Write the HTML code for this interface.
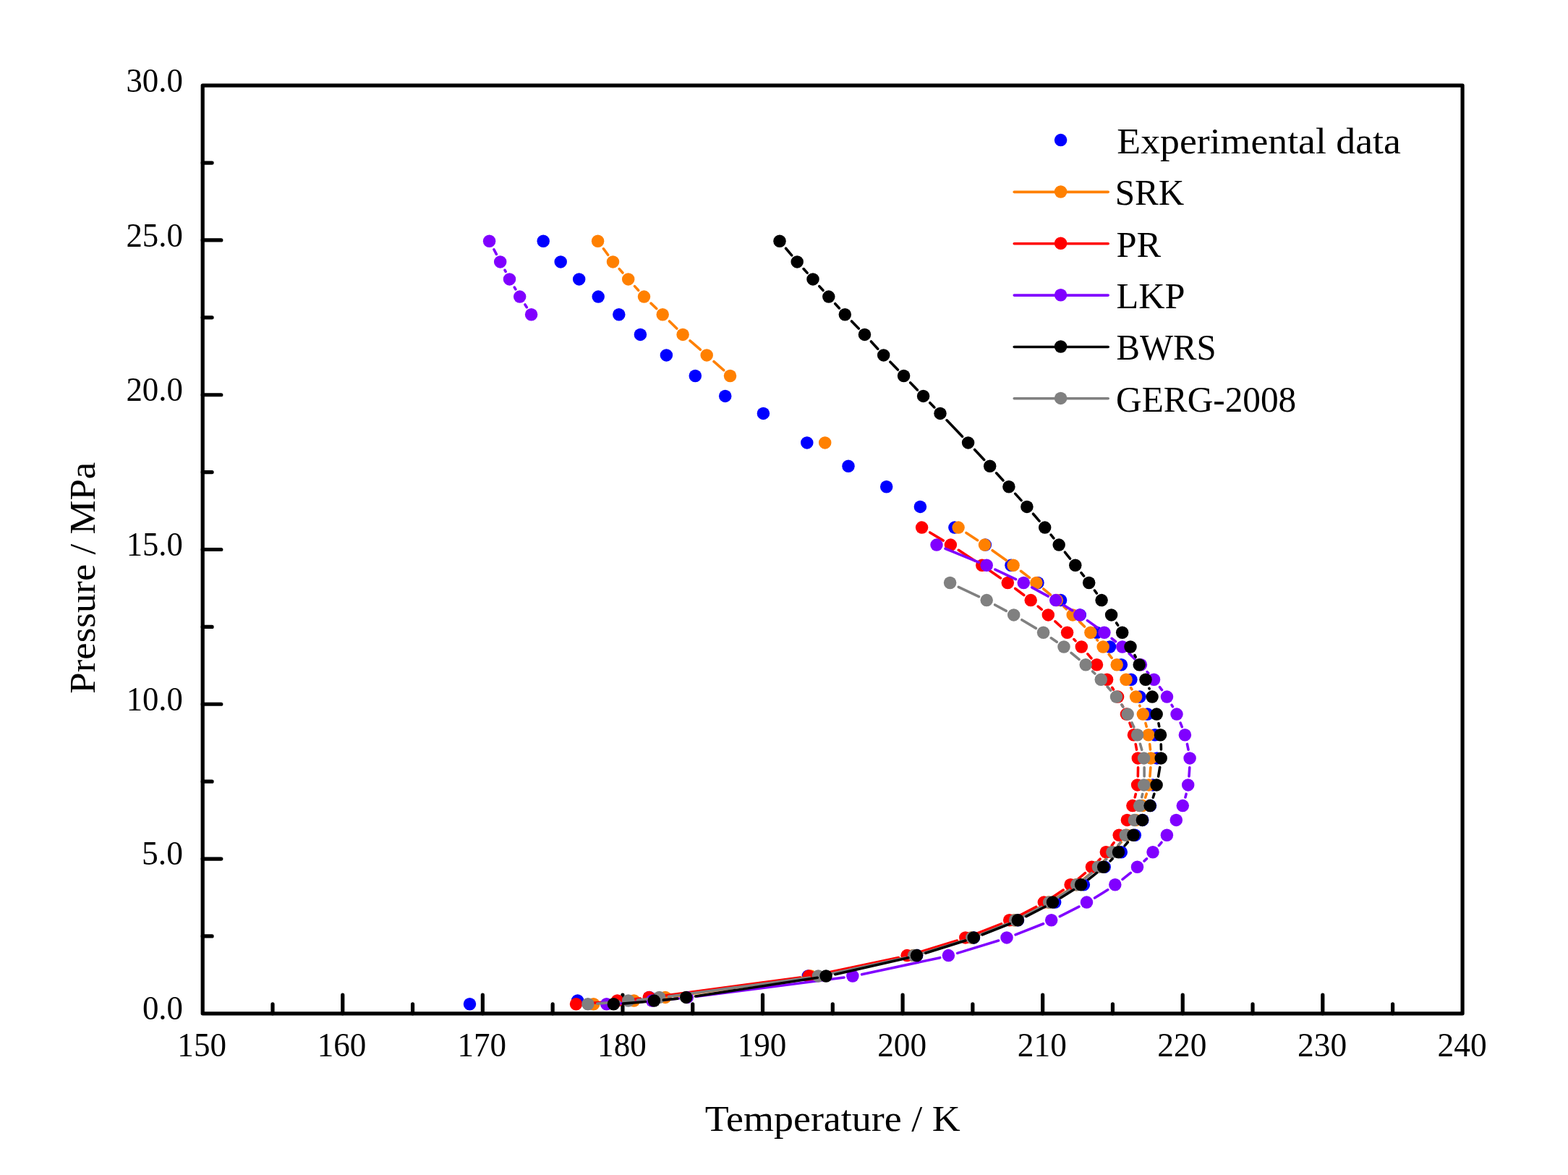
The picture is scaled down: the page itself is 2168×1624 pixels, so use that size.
<!DOCTYPE html>
<html lang="en">
<head>
<meta charset="utf-8">
<title>Pressure vs Temperature phase envelope</title>
<style>
html,body{margin:0;padding:0;background:#fff;}
body{width:2168px;height:1624px;overflow:hidden;}
svg{display:block;}
text{font-family:"Liberation Serif","DejaVu Serif",serif;fill:#000;}
</style>
</head>
<body>
<svg width="2168" height="1624" viewBox="0 0 2168 1624" role="img" aria-label="Pressure versus temperature phase envelope: experimental data compared with SRK, PR, LKP, BWRS and GERG-2008 equations of state">
<rect x="0" y="0" width="2168" height="1624" fill="#ffffff"/>
<g id="axes" fill="none" stroke="#000" stroke-width="5.2" stroke-linecap="round" stroke-linejoin="round">
<rect x="280.2" y="118.2" width="1741.9" height="1282.6"/>
<path d="M376.99 1400.8V1387.9M473.78 1400.8V1375.2M570.57 1400.8V1387.9M667.36 1400.8V1375.2M764.14 1400.8V1387.9M860.93 1400.8V1375.2M957.72 1400.8V1387.9M1054.51 1400.8V1375.2M1151.3 1400.8V1387.9M1248.09 1400.8V1375.2M1344.88 1400.8V1387.9M1441.67 1400.8V1375.2M1538.46 1400.8V1387.9M1635.24 1400.8V1375.2M1732.03 1400.8V1387.9M1828.82 1400.8V1375.2M1925.61 1400.8V1387.9M280.2 1293.92H293.1M280.2 1187.03H305.8M280.2 1080.15H293.1M280.2 973.27H305.8M280.2 866.38H293.1M280.2 759.5H305.8M280.2 652.62H293.1M280.2 545.73H305.8M280.2 438.85H293.1M280.2 331.97H305.8M280.2 225.08H293.1"/>
</g>
<g id="s-exp" fill="#0000ff" stroke="none">
<circle cx="751.2" cy="333.3" r="8.75"/>
<circle cx="775.2" cy="361.9" r="8.75"/>
<circle cx="800.7" cy="385.9" r="8.75"/>
<circle cx="827.2" cy="410.1" r="8.75"/>
<circle cx="855.8" cy="434.7" r="8.75"/>
<circle cx="885.4" cy="462.4" r="8.75"/>
<circle cx="921.4" cy="490.9" r="8.75"/>
<circle cx="961.3" cy="519.5" r="8.75"/>
<circle cx="1002.7" cy="547.4" r="8.75"/>
<circle cx="1055.4" cy="571.4" r="8.75"/>
<circle cx="1115.8" cy="611.9" r="8.75"/>
<circle cx="1173" cy="644.2" r="8.75"/>
<circle cx="1225.7" cy="672.7" r="8.75"/>
<circle cx="1272.4" cy="700.4" r="8.75"/>
<circle cx="1319.9" cy="729.1" r="8.75"/>
<circle cx="1362.4" cy="753.1" r="8.75"/>
<circle cx="1398" cy="781.3" r="8.75"/>
<circle cx="1435" cy="805.5" r="8.75"/>
<circle cx="1466.6" cy="829.6" r="8.75"/>
<circle cx="1493.3" cy="849.9" r="8.75"/>
<circle cx="1516.5" cy="874.3" r="8.75"/>
<circle cx="1534.5" cy="894" r="8.75"/>
<circle cx="1550.4" cy="918.8" r="8.75"/>
<circle cx="1563.9" cy="939.3" r="8.75"/>
<circle cx="1576.1" cy="963.1" r="8.75"/>
<circle cx="1586.5" cy="987.1" r="8.75"/>
<circle cx="1596.9" cy="1015.8" r="8.75"/>
<circle cx="1599.7" cy="1047.9" r="8.75"/>
<circle cx="1594.1" cy="1084.9" r="8.75"/>
<circle cx="1590.5" cy="1113.6" r="8.75"/>
<circle cx="1579.8" cy="1133.4" r="8.75"/>
<circle cx="1569.3" cy="1154.2" r="8.75"/>
<circle cx="1550.3" cy="1177.8" r="8.75"/>
<circle cx="1527.2" cy="1198.2" r="8.75"/>
<circle cx="1498.4" cy="1222.8" r="8.75"/>
<circle cx="1458.7" cy="1247.1" r="8.75"/>
<circle cx="1407.5" cy="1271.8" r="8.75"/>
<circle cx="1346.5" cy="1295.9" r="8.75"/>
<circle cx="1267.7" cy="1320.6" r="8.75"/>
<circle cx="1117.3" cy="1349" r="8.75"/>
<circle cx="897.8" cy="1378.4" r="8.75"/>
<circle cx="798.6" cy="1383" r="8.75"/>
<circle cx="649.5" cy="1387.7" r="8.75"/>
</g>
<g id="s-srk" fill="#ff8000" stroke="none">
<path d="M834.45 343.8L840.65 352.3M856.24 371.68L860.96 377.02M877.53 395.6L882.67 401.3M899.99 419.16L907.71 426.54M925.54 443.92L935.76 454.08M954.03 470.97L968.27 483.23M987.02 499.6L1000.68 511.7M1335.99 736.4L1351.61 746.7M1372.14 760.77L1391.46 774.53M1411.51 789.29L1423.49 798.41M1442.89 814.01L1452.31 821.99M1470.93 838.51L1474.57 841.89M1492.56 859.1L1499.54 866M1516.62 884.1L1517.48 885.1M1533.27 904.33L1537.13 909.37M1563.68 950.56L1564.92 952.74M1575.77 975.09L1576.13 976.01M1583.99 999.59L1585.21 1004.21M1589.71 1028.63L1590.49 1035.97M1590.86 1060.76L1589.94 1072.94M1585.24 1097.22L1583.66 1102.18M1550.27 1163.99L1545.93 1168.91M1529.07 1187.23L1526.73 1189.67M1508.5 1206.58L1497.9 1215.32M1477.8 1229.93L1460.6 1240.87M1439.08 1253.34L1414.12 1266.46M1391.55 1276.89L1354.65 1291.71M1331.2 1300.02L1275 1317.38M1250.89 1323.5L1133.71 1347M1109.18 1351.25L932.72 1377.05M908.02 1380.16L889.38 1382.14M864.59 1384.49L833.61 1387.11" fill="none" stroke="#ff8000" stroke-width="3.6" stroke-linecap="round"/>
<circle cx="826.6" cy="333.3" r="8.75"/>
<circle cx="847.5" cy="361.9" r="8.75"/>
<circle cx="868.7" cy="385.9" r="8.75"/>
<circle cx="890.5" cy="410.1" r="8.75"/>
<circle cx="916.2" cy="434.7" r="8.75"/>
<circle cx="944.1" cy="462.4" r="8.75"/>
<circle cx="977.2" cy="490.9" r="8.75"/>
<circle cx="1009.5" cy="519.5" r="8.75"/>
<circle cx="1140.7" cy="611.9" r="8.75"/>
<circle cx="1325.1" cy="729.1" r="8.75"/>
<circle cx="1361.5" cy="753.1" r="8.75"/>
<circle cx="1401.1" cy="781.3" r="8.75"/>
<circle cx="1432.9" cy="805.5" r="8.75"/>
<circle cx="1461.3" cy="829.6" r="8.75"/>
<circle cx="1483.2" cy="849.9" r="8.75"/>
<circle cx="1507.9" cy="874.3" r="8.75"/>
<circle cx="1525.2" cy="894" r="8.75"/>
<circle cx="1544.2" cy="918.8" r="8.75"/>
<circle cx="1557" cy="939.3" r="8.75"/>
<circle cx="1570.6" cy="963.1" r="8.75"/>
<circle cx="1580.3" cy="987.1" r="8.75"/>
<circle cx="1587.9" cy="1015.8" r="8.75"/>
<circle cx="1591.3" cy="1047.9" r="8.75"/>
<circle cx="1588.5" cy="1084.9" r="8.75"/>
<circle cx="1579.4" cy="1113.6" r="8.75"/>
<circle cx="1570.4" cy="1133.4" r="8.75"/>
<circle cx="1558" cy="1154.2" r="8.75"/>
<circle cx="1537.2" cy="1177.8" r="8.75"/>
<circle cx="1517.6" cy="1198.2" r="8.75"/>
<circle cx="1487.8" cy="1222.8" r="8.75"/>
<circle cx="1449.6" cy="1247.1" r="8.75"/>
<circle cx="1402.6" cy="1271.8" r="8.75"/>
<circle cx="1342.6" cy="1295.9" r="8.75"/>
<circle cx="1262.6" cy="1320.6" r="8.75"/>
<circle cx="1121" cy="1349" r="8.75"/>
<circle cx="919.9" cy="1378.4" r="8.75"/>
<circle cx="876.5" cy="1383" r="8.75"/>
<circle cx="820.7" cy="1387.7" r="8.75"/>
</g>
<g id="s-pr" fill="#ff0000" stroke="none">
<path d="M1285.76 735.98L1304.24 747.12M1325.34 760.33L1347.86 774.97M1368.59 788.76L1383.51 798.94M1403.73 813.45L1415.77 822.55M1435.22 838.07L1440.28 842.33M1458.93 858.82L1466.97 866.28M1484.9 883.55L1487 885.65M1503.89 903.91L1508.91 909.79M1537.74 950.28L1539.46 953.02M1551.59 974.72L1552.41 976.38M1562.03 999.29L1563.87 1004.51M1570.21 1028.5L1571.59 1036.1M1573.56 1060.8L1573.34 1072.9M1570.27 1097.47L1569.23 1101.93M1540.18 1164.57L1537.32 1168.33M1521.13 1187.18L1518.67 1189.72M1500.45 1206.64L1490.15 1215.26M1470.21 1230.11L1454.19 1240.69M1432.75 1253.28L1407.25 1266.52M1384.62 1276.83L1346.88 1291.77M1323.4 1299.99L1266.5 1317.41M1242.41 1323.6L1131.09 1346.9M1106.56 1351.09L910.14 1377.21M885.42 1380.15L866.38 1382.15M841.59 1384.47L809.41 1387.13" fill="none" stroke="#ff0000" stroke-width="3.6" stroke-linecap="round"/>
<circle cx="1274.6" cy="729.1" r="8.75"/>
<circle cx="1314.4" cy="753.1" r="8.75"/>
<circle cx="1357.8" cy="781.3" r="8.75"/>
<circle cx="1393.3" cy="805.5" r="8.75"/>
<circle cx="1425.2" cy="829.6" r="8.75"/>
<circle cx="1449.3" cy="849.9" r="8.75"/>
<circle cx="1475.6" cy="874.3" r="8.75"/>
<circle cx="1495.3" cy="894" r="8.75"/>
<circle cx="1516.5" cy="918.8" r="8.75"/>
<circle cx="1530.6" cy="939.3" r="8.75"/>
<circle cx="1545.6" cy="963.1" r="8.75"/>
<circle cx="1557.4" cy="987.1" r="8.75"/>
<circle cx="1567.5" cy="1015.8" r="8.75"/>
<circle cx="1573.3" cy="1047.9" r="8.75"/>
<circle cx="1572.6" cy="1084.9" r="8.75"/>
<circle cx="1565.9" cy="1113.6" r="8.75"/>
<circle cx="1558.4" cy="1133.4" r="8.75"/>
<circle cx="1547.2" cy="1154.2" r="8.75"/>
<circle cx="1529.3" cy="1177.8" r="8.75"/>
<circle cx="1509.5" cy="1198.2" r="8.75"/>
<circle cx="1480.1" cy="1222.8" r="8.75"/>
<circle cx="1443.3" cy="1247.1" r="8.75"/>
<circle cx="1395.7" cy="1271.8" r="8.75"/>
<circle cx="1334.8" cy="1295.9" r="8.75"/>
<circle cx="1254.1" cy="1320.6" r="8.75"/>
<circle cx="1118.4" cy="1349" r="8.75"/>
<circle cx="897.3" cy="1378.4" r="8.75"/>
<circle cx="853.5" cy="1383" r="8.75"/>
<circle cx="796.5" cy="1387.7" r="8.75"/>
</g>
<g id="s-lkp" fill="#8000ff" stroke="none">
<path d="M682.91 344.76L686.39 351.34M698.06 373.34L699.14 375.36M711.3 397.09L712.9 399.81M725.96 421.01L728.34 424.69M1307.03 758.25L1353.17 777.05M1375.95 787.08L1404.55 800.62M1426.74 811.89L1449.26 824.11M1470.82 836.54L1482.78 843.86M1503.51 857.61L1517.29 867.49M1537.16 882.47L1542.54 886.73M1561.24 903.11L1568.96 910.59M1586.14 928.58L1587.76 930.42M1603.51 949.68L1606.49 953.62M1620.1 974.4L1621.4 976.7M1632.1 999.12L1634.3 1004.68M1641.44 1028.44L1643.06 1036.16M1644.79 1060.77L1644.01 1072.93M1640.09 1097.41L1638.91 1101.99M1605.99 1164.27L1602.41 1168.63M1585.47 1186.82L1582.03 1190.08M1563.28 1206.44L1552.02 1215.46M1531.71 1229.8L1513.59 1241M1491.89 1253.17L1465.31 1266.63M1442.6 1276.78L1404.1 1291.82M1380.6 1300L1323.8 1317.4M1299.73 1323.66L1191.57 1346.84M1167.05 1351.04L963.15 1377.26M938.4 1380.02L914.4 1382.28M889.58 1384.38L851.62 1387.22" fill="none" stroke="#8000ff" stroke-width="3.6" stroke-linecap="round"/>
<circle cx="676.6" cy="333.3" r="8.75"/>
<circle cx="691.7" cy="361.9" r="8.75"/>
<circle cx="704.5" cy="385.9" r="8.75"/>
<circle cx="718.7" cy="410.1" r="8.75"/>
<circle cx="734.6" cy="434.7" r="8.75"/>
<circle cx="1295" cy="753.1" r="8.75"/>
<circle cx="1364.2" cy="781.3" r="8.75"/>
<circle cx="1415.3" cy="805.5" r="8.75"/>
<circle cx="1459.7" cy="829.6" r="8.75"/>
<circle cx="1492.9" cy="849.9" r="8.75"/>
<circle cx="1526.9" cy="874.3" r="8.75"/>
<circle cx="1551.8" cy="894" r="8.75"/>
<circle cx="1577.4" cy="918.8" r="8.75"/>
<circle cx="1595.5" cy="939.3" r="8.75"/>
<circle cx="1613.5" cy="963.1" r="8.75"/>
<circle cx="1627" cy="987.1" r="8.75"/>
<circle cx="1638.4" cy="1015.8" r="8.75"/>
<circle cx="1645.1" cy="1047.9" r="8.75"/>
<circle cx="1642.7" cy="1084.9" r="8.75"/>
<circle cx="1635.3" cy="1113.6" r="8.75"/>
<circle cx="1626.3" cy="1133.4" r="8.75"/>
<circle cx="1613.4" cy="1154.2" r="8.75"/>
<circle cx="1594" cy="1177.8" r="8.75"/>
<circle cx="1572.5" cy="1198.2" r="8.75"/>
<circle cx="1541.8" cy="1222.8" r="8.75"/>
<circle cx="1502.5" cy="1247.1" r="8.75"/>
<circle cx="1453.7" cy="1271.8" r="8.75"/>
<circle cx="1392" cy="1295.9" r="8.75"/>
<circle cx="1311.4" cy="1320.6" r="8.75"/>
<circle cx="1178.9" cy="1349" r="8.75"/>
<circle cx="950.3" cy="1378.4" r="8.75"/>
<circle cx="901.5" cy="1383" r="8.75"/>
<circle cx="838.7" cy="1387.7" r="8.75"/>
</g>
<g id="s-gerg" fill="#808080" stroke="none">
<path d="M1325.34 811.3L1353.46 824.7M1375.65 835.98L1391.25 844.42M1412.89 856.73L1432.41 868.37M1453.33 881.85L1461.27 887.35M1481.12 902.35L1492.08 911.35M1510.63 927.93L1513.87 931.07M1531.08 949.05L1535.72 954.25M1550.82 973.97L1552.88 977.13M1564.97 998.83L1567.83 1004.97M1576.46 1028.24L1578.74 1036.36M1582.13 1060.8L1582.17 1072.9M1579.65 1097.54L1578.75 1101.86M1549.14 1164.47L1546.06 1168.43M1529.82 1187.27L1527.58 1189.63M1509.4 1206.58L1498.8 1215.32M1478.7 1229.94L1461.6 1240.86M1440.08 1253.34L1415.12 1266.46M1392.55 1276.9L1355.85 1291.7M1332.4 1300.01L1275.9 1317.39M1251.83 1323.67L1144.07 1346.83M1119.56 1351.1L924.44 1377.2M899.72 1380.18L881.58 1382.12M856.79 1384.49L825.81 1387.11" fill="none" stroke="#808080" stroke-width="3.6" stroke-linecap="round"/>
<circle cx="1313.6" cy="805.5" r="8.75"/>
<circle cx="1364.2" cy="829.6" r="8.75"/>
<circle cx="1401.7" cy="849.9" r="8.75"/>
<circle cx="1442.6" cy="874.3" r="8.75"/>
<circle cx="1471" cy="894" r="8.75"/>
<circle cx="1501.2" cy="918.8" r="8.75"/>
<circle cx="1522.3" cy="939.3" r="8.75"/>
<circle cx="1543.5" cy="963.1" r="8.75"/>
<circle cx="1559.2" cy="987.1" r="8.75"/>
<circle cx="1572.6" cy="1015.8" r="8.75"/>
<circle cx="1581.6" cy="1047.9" r="8.75"/>
<circle cx="1581.7" cy="1084.9" r="8.75"/>
<circle cx="1575.7" cy="1113.6" r="8.75"/>
<circle cx="1568.4" cy="1133.4" r="8.75"/>
<circle cx="1556.3" cy="1154.2" r="8.75"/>
<circle cx="1537.9" cy="1177.8" r="8.75"/>
<circle cx="1518.5" cy="1198.2" r="8.75"/>
<circle cx="1488.7" cy="1222.8" r="8.75"/>
<circle cx="1450.6" cy="1247.1" r="8.75"/>
<circle cx="1403.6" cy="1271.8" r="8.75"/>
<circle cx="1343.8" cy="1295.9" r="8.75"/>
<circle cx="1263.5" cy="1320.6" r="8.75"/>
<circle cx="1131.4" cy="1349" r="8.75"/>
<circle cx="911.6" cy="1378.4" r="8.75"/>
<circle cx="868.7" cy="1383" r="8.75"/>
<circle cx="812.9" cy="1387.7" r="8.75"/>
</g>
<g id="s-bwrs" fill="#000000" stroke="none">
<path d="M1086.54 343.25L1094.66 352.85M1111.07 371.57L1116.13 377.13M1132.83 395.6L1137.97 401.3M1154.7 419.74L1160.4 425.96M1177.52 444.03L1187.28 453.97M1204.43 472.02L1213.77 482.18M1230.89 500.26L1241.41 511.04M1258.76 528.9L1268.44 538.9M1285.79 556.76L1291.81 562.94M1309.09 580.86L1330.51 603.34M1347.59 621.46L1360.71 635.54M1377.63 653.82L1386.97 663.98M1403.74 682.39L1412.06 691.61M1428.54 710.27L1437.06 720.13M1453.05 739.21L1456.85 743.89M1472.49 763.27L1479.51 772.03M1494.96 791.56L1498.54 796.14M1513.49 816.04L1516.31 819.96M1543.65 860.94L1545.65 864.16M1569 905.62L1570.2 908.08M1588.95 951.38L1589.15 951.92M1601.96 999.79L1602.74 1004.01M1605.27 1028.7L1605.43 1035.9M1603.67 1060.63L1601.63 1073.07M1595.87 1097.23L1594.33 1102.17M1559.34 1164.05L1555.16 1168.85M1538.11 1186.97L1535.09 1189.93M1516.44 1206.37L1504.86 1215.53M1484.53 1229.82L1466.57 1240.98M1444.92 1253.23L1418.88 1266.57M1396.22 1276.82L1358.38 1291.78M1334.92 1300.07L1279.88 1317.33M1255.86 1323.8L1154.74 1346.7M1130.29 1351.32L961.51 1376.98M936.82 1380.14L917.28 1382.16M892.49 1384.49L861.31 1387.11" fill="none" stroke="#000000" stroke-width="3.6" stroke-linecap="round"/>
<circle cx="1078" cy="333.3" r="8.75"/>
<circle cx="1102.2" cy="361.9" r="8.75"/>
<circle cx="1124" cy="385.9" r="8.75"/>
<circle cx="1145.8" cy="410.1" r="8.75"/>
<circle cx="1168.3" cy="434.7" r="8.75"/>
<circle cx="1195.5" cy="462.4" r="8.75"/>
<circle cx="1221.7" cy="490.9" r="8.75"/>
<circle cx="1249.6" cy="519.5" r="8.75"/>
<circle cx="1276.6" cy="547.4" r="8.75"/>
<circle cx="1300" cy="571.4" r="8.75"/>
<circle cx="1338.6" cy="611.9" r="8.75"/>
<circle cx="1368.7" cy="644.2" r="8.75"/>
<circle cx="1394.9" cy="672.7" r="8.75"/>
<circle cx="1419.9" cy="700.4" r="8.75"/>
<circle cx="1444.7" cy="729.1" r="8.75"/>
<circle cx="1464.2" cy="753.1" r="8.75"/>
<circle cx="1486.8" cy="781.3" r="8.75"/>
<circle cx="1505.7" cy="805.5" r="8.75"/>
<circle cx="1523.1" cy="829.6" r="8.75"/>
<circle cx="1536.6" cy="849.9" r="8.75"/>
<circle cx="1551.7" cy="874.3" r="8.75"/>
<circle cx="1563" cy="894" r="8.75"/>
<circle cx="1575.2" cy="918.8" r="8.75"/>
<circle cx="1584" cy="939.3" r="8.75"/>
<circle cx="1593.1" cy="963.1" r="8.75"/>
<circle cx="1599.2" cy="987.1" r="8.75"/>
<circle cx="1604.5" cy="1015.8" r="8.75"/>
<circle cx="1605.2" cy="1047.9" r="8.75"/>
<circle cx="1599.1" cy="1084.9" r="8.75"/>
<circle cx="1590.1" cy="1113.6" r="8.75"/>
<circle cx="1579.4" cy="1133.4" r="8.75"/>
<circle cx="1567" cy="1154.2" r="8.75"/>
<circle cx="1546.5" cy="1177.8" r="8.75"/>
<circle cx="1525.7" cy="1198.2" r="8.75"/>
<circle cx="1494.6" cy="1222.8" r="8.75"/>
<circle cx="1455.5" cy="1247.1" r="8.75"/>
<circle cx="1407.3" cy="1271.8" r="8.75"/>
<circle cx="1346.3" cy="1295.9" r="8.75"/>
<circle cx="1267.5" cy="1320.6" r="8.75"/>
<circle cx="1142.1" cy="1349" r="8.75"/>
<circle cx="948.7" cy="1378.4" r="8.75"/>
<circle cx="904.4" cy="1383" r="8.75"/>
<circle cx="848.4" cy="1387.7" r="8.75"/>
</g>
<g id="legend">
<circle cx="1466.6" cy="193.6" r="8.75" fill="#0000ff"/>
<path d="M1402.25 265.35H1532.2" fill="none" stroke="#ff8000" stroke-width="3.6" stroke-linecap="round"/>
<circle cx="1466.6" cy="264.95" r="8.75" fill="#ff8000"/>
<path d="M1402.25 336.7H1532.2" fill="none" stroke="#ff0000" stroke-width="3.6" stroke-linecap="round"/>
<circle cx="1466.6" cy="336.3" r="8.75" fill="#ff0000"/>
<path d="M1402.25 408.1H1532.2" fill="none" stroke="#8000ff" stroke-width="3.6" stroke-linecap="round"/>
<circle cx="1466.6" cy="407.7" r="8.75" fill="#8000ff"/>
<path d="M1402.25 479.45H1532.2" fill="none" stroke="#000000" stroke-width="3.6" stroke-linecap="round"/>
<circle cx="1466.6" cy="479.05" r="8.75" fill="#000000"/>
<path d="M1402.25 550.8H1532.2" fill="none" stroke="#808080" stroke-width="3.6" stroke-linecap="round"/>
<circle cx="1466.6" cy="550.4" r="8.75" fill="#808080"/>
</g>
<g id="labels">
<text transform="translate(1544.32 212) scale(1.0500 1.0000)" font-size="51.2">Experimental data</text>
<text transform="translate(1541.66 283) scale(0.9607 1.0000)" font-size="51.2">SRK</text>
<text transform="translate(1543.42 355) scale(0.9863 1.0000)" font-size="51.2">PR</text>
<text transform="translate(1543.47 426) scale(0.9831 1.0000)" font-size="51.2">LKP</text>
<text transform="translate(1543.62 497) scale(0.9520 1.0000)" font-size="51.2">BWRS</text>
<text transform="translate(1543.03 569) scale(0.9633 1.0000)" font-size="51.2">GERG-2008</text>
<text transform="translate(974.82 1563) scale(1.0543 1.0000)" font-size="51.2">Temperature / K</text>
<text transform="translate(131 958.66) rotate(-90) scale(1.0325 1.0000)" font-size="51.2">Pressure / MPa</text>
<text transform="translate(174.4 127) scale(0.9548 1.0000)" font-size="47">30.0</text>
<text transform="translate(174.47 341) scale(0.9534 1.0000)" font-size="47">25.0</text>
<text transform="translate(174.44 554) scale(0.9548 1.0000)" font-size="47">20.0</text>
<text transform="translate(174.69 768) scale(0.9504 1.0000)" font-size="47">15.0</text>
<text transform="translate(174.69 982) scale(0.9504 1.0000)" font-size="47">10.0</text>
<text transform="translate(196 1195) scale(0.9693 1.0000)" font-size="47">5.0</text>
<text transform="translate(196.91 1409) scale(0.9548 1.0000)" font-size="47">0.0</text>
<text transform="translate(245.37 1460) scale(0.9592 1.0000)" font-size="47">150</text>
<text transform="translate(438.75 1460) scale(0.9596 1.0000)" font-size="47">160</text>
<text transform="translate(632.5 1460) scale(0.9579 1.0000)" font-size="47">170</text>
<text transform="translate(826.12 1460) scale(0.9588 1.0000)" font-size="47">180</text>
<text transform="translate(1019.66 1460) scale(0.9594 1.0000)" font-size="47">190</text>
<text transform="translate(1213.24 1460) scale(0.9634 1.0000)" font-size="47">200</text>
<text transform="translate(1406.85 1460) scale(0.9637 1.0000)" font-size="47">210</text>
<text transform="translate(1600.36 1460) scale(0.9644 1.0000)" font-size="47">220</text>
<text transform="translate(1793.95 1460) scale(0.9666 1.0000)" font-size="47">230</text>
<text transform="translate(1987.5 1460) scale(0.9671 1.0000)" font-size="47">240</text>
</g>
</svg>
</body>
</html>
